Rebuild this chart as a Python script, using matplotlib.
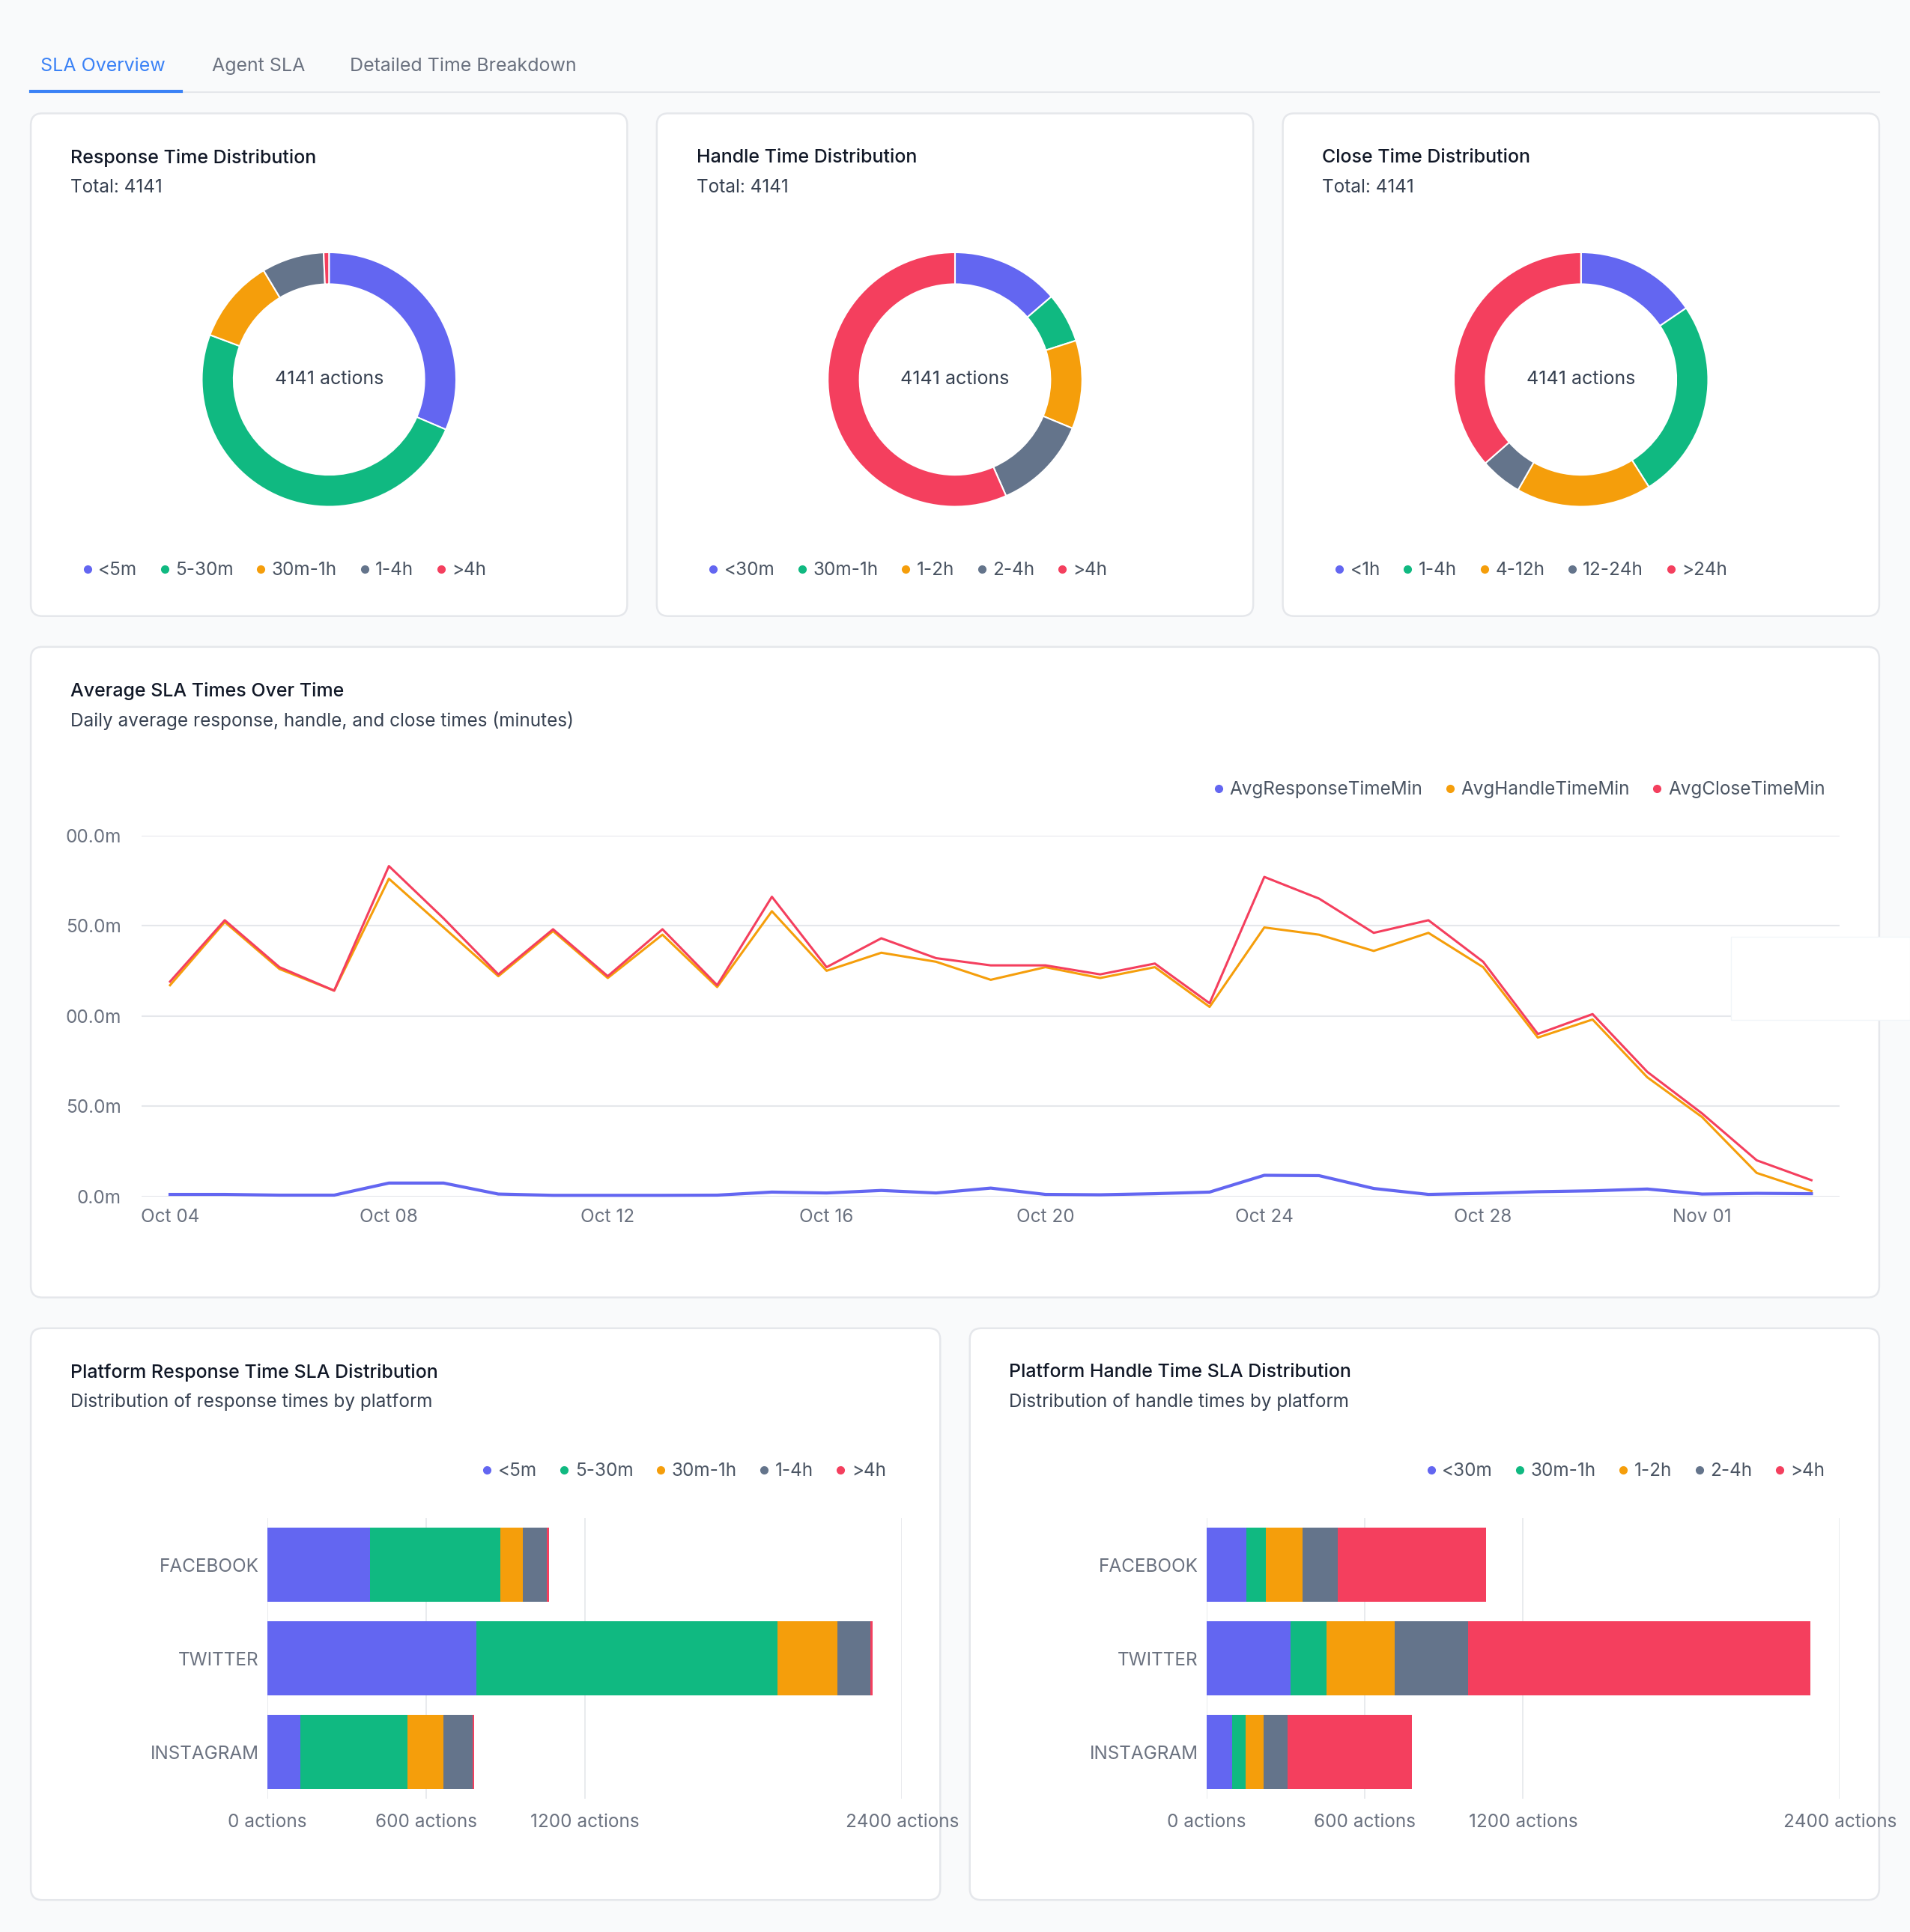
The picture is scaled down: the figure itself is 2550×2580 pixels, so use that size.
import matplotlib
matplotlib.use("Agg")
import matplotlib.pyplot as plt
from matplotlib.patches import FancyBboxPatch, Rectangle
from matplotlib.lines import Line2D
import numpy as np

plt.rcParams['font.family'] = ['Inter', 'DejaVu Sans']

# ---------------- data ----------------
colors = ['#6366f1', '#10b981', '#f59e0b', '#64748b', '#f43f5e']
resp_labels = ['<5m', '5-30m', '30m-1h', '1-4h', '>4h']
resp_counts = [1302, 2040, 443, 328, 28]
handle_labels = ['<30m', '30m-1h', '1-2h', '2-4h', '>4h']
handle_counts = [567, 263, 465, 503, 2343]
close_labels = ['<1h', '1-4h', '4-12h', '12-24h', '>24h']
close_counts = [642, 1057, 713, 220, 1509]

dates = ['Oct 04', 'Oct 05', 'Oct 06', 'Oct 07', 'Oct 08', 'Oct 09', 'Oct 10', 'Oct 11',
         'Oct 12', 'Oct 13', 'Oct 14', 'Oct 15', 'Oct 16', 'Oct 17', 'Oct 18', 'Oct 19',
         'Oct 20', 'Oct 21', 'Oct 22', 'Oct 23', 'Oct 24', 'Oct 25', 'Oct 26', 'Oct 27',
         'Oct 28', 'Oct 29', 'Oct 30', 'Oct 31', 'Nov 01', 'Nov 02', 'Nov 03']
avg_response = [1.1, 1.1, 0.7, 0.7, 7.4, 7.4, 1.3, 0.6, 0.6, 0.6, 0.7, 2.4, 1.9, 3.3, 1.9, 4.6,
                1.1, 0.9, 1.5, 2.4, 11.7, 11.5, 4.4, 1.1, 1.7, 2.6, 3.1, 4.1, 1.3, 1.7, 1.5]
avg_handle = [117, 152, 126, 114, 176, 149, 122, 147, 121, 145, 116, 158, 125, 135, 130, 120,
              127, 121, 127, 105, 149, 145, 136, 146, 127, 88, 98, 66, 44, 13, 3]
avg_close = [119, 153, 127, 114, 183, 154, 123, 148, 122, 148, 117, 166, 127, 143, 132, 128,
             128, 123, 129, 107, 177, 165, 146, 153, 130, 90, 101, 69, 46, 20, 9]
y_ticks = [0, 50, 100, 150, 200]
y_ticklabels = ['0.0m', '50.0m', '00.0m', '50.0m', '00.0m']
x_tick_labels = ['Oct 04', 'Oct 08', 'Oct 12', 'Oct 16', 'Oct 20', 'Oct 24', 'Oct 28', 'Nov 01']

platforms = ['FACEBOOK', 'TWITTER', 'INSTAGRAM']
plat_resp = {'<5m': [388, 789, 125], '5-30m': [494, 1140, 406], '30m-1h': [83, 226, 134],
             '1-4h': [92, 125, 111], '>4h': [9, 9, 5]}
plat_handle = {'<30m': [152, 318, 97], '30m-1h': [74, 138, 51], '1-2h': [138, 258, 69],
               '2-4h': [134, 277, 92], '>4h': [563, 1297, 471]}
bar_ticks = [0, 600, 1200, 2400]
bar_ticklabels = ['0 actions', '600 actions', '1200 actions', '2400 actions']

# ---------------- layout ----------------
W, H = 1550.0, 1568.0
fig = plt.figure(figsize=(25.5, 25.8), dpi=100)
fig.patch.set_facecolor('#f9fafb')

def fx(x): return x / W
def fy(y): return 1 - y / H
def rect(x0, y0, x1, y1):
    return [fx(x0), fy(y1), fx(x1) - fx(x0), fy(y0) - fy(y1)]

DARK = '#111827'
SUB = '#374151'
GRAY = '#6b7280'
TS = 18
SS = 17.5

def card(x0, y0, x1, y1):
    p = FancyBboxPatch((fx(x0), fy(y1)), fx(x1) - fx(x0), fy(y0) - fy(y1),
                       boxstyle="round,pad=0,rounding_size=0.006", transform=fig.transFigure,
                       facecolor='white', edgecolor='#e5e7eb', linewidth=1.8, zorder=-10)
    fig.patches.append(p)

def legend_row(handles_labels, x, y, ha='left', size=17.5):
    handles = [Line2D([], [], marker='o', linestyle='', color=c, markersize=7) for c, _ in handles_labels]
    loc = 'center left' if ha == 'left' else 'center right'
    fig.legend(handles, [l for _, l in handles_labels], loc=loc, bbox_to_anchor=(fx(x), fy(y)),
               ncol=len(handles), frameon=False, fontsize=size, labelcolor='#4b5563',
               handletextpad=0.2, columnspacing=1.1, handlelength=0.8, borderaxespad=0)

# tabs
fig.text(fx(33), fy(54), 'SLA Overview', color='#3b82f6', fontsize=18, va='center')
fig.text(fx(172), fy(54), 'Agent SLA', color=GRAY, fontsize=18, va='center')
fig.text(fx(284), fy(54), 'Detailed Time Breakdown', color=GRAY, fontsize=18, va='center')
fig.add_artist(Line2D([fx(25), fx(1525)], [fy(75), fy(75)], color='#e5e7eb', lw=1.5))
fig.add_artist(Line2D([fx(25), fx(147)], [fy(74), fy(74)], color='#3b82f6', lw=3))

# donut cards
donuts = [('Response Time Distribution', resp_labels, resp_counts, 25),
          ('Handle Time Distribution', handle_labels, handle_counts, 533),
          ('Close Time Distribution', close_labels, close_counts, 1041)]
for title, labels, counts, x0 in donuts:
    card(x0, 92, x0 + 484, 500)
    fig.text(fx(x0 + 32), fy(128), title, color=DARK, fontsize=TS, va='center', fontweight='medium')
    fig.text(fx(x0 + 32), fy(152), f'Total: {sum(counts)}', color=SUB, fontsize=SS, va='center')
    cx = x0 + 242
    ax = fig.add_axes(rect(cx - 129, 179, cx + 129, 437))
    ax.pie(counts, colors=colors, startangle=90, counterclock=False, radius=1,
           wedgeprops=dict(width=0.25, edgecolor='white', linewidth=1.5))
    ax.set_aspect('equal')
    ax.text(0, 0, f'{sum(counts)} actions', ha='center', va='center', fontsize=18, color=SUB)
    legend_row(list(zip(colors, labels)), x0 + 34, 463)

# line chart card
card(25, 525, 1525, 1053)
fig.text(fx(57), fy(561), 'Average SLA Times Over Time', color=DARK, fontsize=TS, va='center', fontweight='medium')
fig.text(fx(57), fy(585), 'Daily average response, handle, and close times (minutes)', color=SUB, fontsize=SS, va='center')
legend_row([(colors[0], 'AvgResponseTimeMin'), (colors[2], 'AvgHandleTimeMin'), (colors[4], 'AvgCloseTimeMin')],
           1487, 641, ha='right')
ax = fig.add_axes(rect(115, 678, 1493, 971))
ax.set_facecolor('none')
x = np.arange(len(dates))
ax.plot(x, avg_response, color=colors[0], lw=3, clip_on=False)
ax.plot(x, avg_handle, color=colors[2], lw=2.2, clip_on=False)
ax.plot(x, avg_close, color=colors[4], lw=2.2, clip_on=False)
px_per_day = (1470 - 138) / 30.0
ax.set_xlim(-(138 - 115) / px_per_day, 30 + (1493 - 1470) / px_per_day)
ax.set_ylim(0, 200)
ax.set_yticks(y_ticks)
ax.set_yticklabels(y_ticklabels)
ax.set_xticks([dates.index(d) for d in x_tick_labels])
ax.set_xticklabels(x_tick_labels)
ax.grid(axis='y', color='#e5e7eb', lw=1.5)
ax.set_axisbelow(True)
for s in ax.spines.values():
    s.set_visible(False)
ax.tick_params(length=0, labelsize=17.5, labelcolor=GRAY, pad=12)
ax.tick_params(axis='y', pad=20)
# tooltip remnant
fig.patches.append(Rectangle((fx(1405), fy(828)), fx(1550) - fx(1405), fy(760) - fy(828),
                             transform=fig.transFigure, facecolor='white', edgecolor='#f1f5f9', lw=1, zorder=5))

# bar cards
bars = [('Platform Response Time SLA Distribution', 'Distribution of response times by platform', plat_resp, 25, 763, 217, 732),
        ('Platform Handle Time SLA Distribution', 'Distribution of handle times by platform', plat_handle, 787, 1525, 979, 1493)]
for title, sub, data, x0, x1, ax0, ax1 in bars:
    card(x0, 1078, x1, 1542)
    fig.text(fx(x0 + 32), fy(1114), title, color=DARK, fontsize=TS, va='center', fontweight='medium')
    fig.text(fx(x0 + 32), fy(1138), sub, color=SUB, fontsize=SS, va='center')
    keys = list(data.keys())
    legend_row(list(zip(colors, keys)), x1 - 38, 1194, ha='right')
    ax = fig.add_axes(rect(ax0, 1232, ax1, 1460))
    ax.set_facecolor('none')
    y = np.arange(len(platforms))
    left = np.zeros(len(platforms))
    for k, c in zip(keys, colors):
        ax.barh(y, data[k], left=left, color=c, height=0.79)
        left += np.array(data[k])
    ax.set_ylim(2.5, -0.5)
    ax.set_xlim(0, 2400)
    ax.set_xticks(bar_ticks)
    ax.set_xticklabels(bar_ticklabels)
    ax.set_yticks(y)
    ax.set_yticklabels(platforms)
    ax.grid(axis='x', color='#e5e7eb', lw=1.2)
    ax.set_axisbelow(True)
    for s in ax.spines.values():
        s.set_visible(False)
    ax.tick_params(length=0, labelsize=17.5, labelcolor=GRAY)
    ax.tick_params(axis='x', pad=14)
    ax.tick_params(axis='y', pad=8)

fig.savefig('out.png', dpi=100, facecolor=fig.get_facecolor())
